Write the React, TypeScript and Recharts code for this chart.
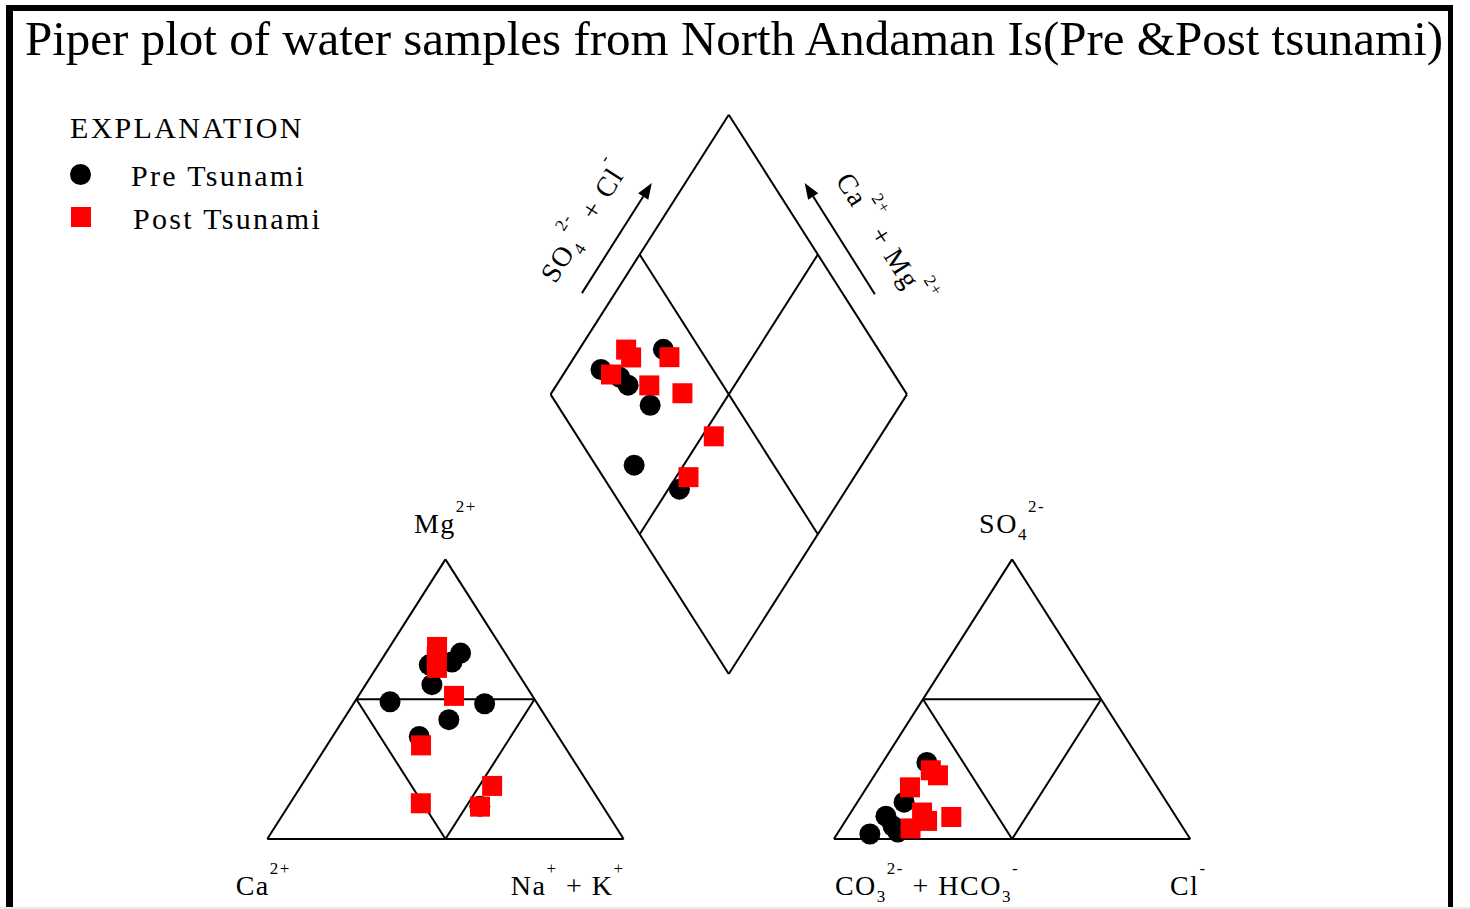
import * as React from 'react';
import { ScatterChart, Scatter, XAxis, YAxis, ReferenceLine, ReferenceDot, Legend } from 'recharts';

const SERIF = '"Liberation Serif", "Times New Roman", "DejaVu Serif", serif';

// ---- data (percent of meq) ----
// cation triangle: [Ca, Mg, Na+K]
const preCations = [
  [41.0, 49.1, 9.9],
  [14.8, 48.4, 36.8],
  [26.2, 55.2, 18.6],
  [27.7, 42.7, 29.6],
  [39.0, 36.7, 24.3],
  [34.5, 11.7, 53.8],
  [12.5, 66.5, 21.0],
  [16.5, 63.3, 20.2],
  [23.4, 62.3, 14.3],
];
const postCations = [
  [18.0, 68.7, 13.3],
  [19.9, 65.1, 15.0],
  [21.8, 61.2, 17.0],
  [22.0, 51.2, 26.8],
  [40.1, 33.5, 26.4],
  [50.5, 12.8, 36.7],
  [27.4, 19.0, 53.6],
  [34.5, 11.6, 53.9],
];
// anion triangle: [CO3+HCO3, SO4, Cl]
const preAnions = [
  [89.0, 1.8, 9.2],
  [60.2, 27.4, 12.4],
  [73.7, 13.2, 13.1],
  [81.3, 8.2, 10.5],
  [81.1, 4.6, 14.3],
  [80.8, 2.5, 16.7],
];
const postAnions = [
  [60.5, 24.6, 14.9],
  [59.4, 22.8, 17.8],
  [69.4, 18.5, 12.1],
  [70.5, 9.5, 20.0],
  [70.6, 6.5, 22.9],
  [63.1, 7.9, 29.0],
  [76.6, 3.8, 19.6],
];
// diamond: [Na+K, SO4+Cl]
const preDiamond = [
  [9.7, 18.6],
  [16.4, 22.5],
  [20.1, 23.4],
  [23.6, 39.7],
  [29.9, 26.0],
  [36.1, 10.8],
  [53.1, 19.2],
];
const postDiamond = [
  [13.2, 29.2],
  [16.0, 29.2],
  [26.7, 40.0],
  [13.4, 20.5],
  [26.1, 29.3],
  [36.8, 37.2],
  [53.3, 38.3],
  [53.5, 23.9],
];

// ---- piper geometry (x in triangle sides, y in triangle heights) ----
const GAP = 0.59;
const AO = 1 + GAP; // anion triangle left corner
const DL = { x: 0.5 + GAP / 2, y: 1 + GAP }; // left corner of diamond

const cationXY = ([, mg, nak]: number[]) => ({ x: (nak + mg / 2) / 100, y: mg / 100 });
const anionXY = ([, so4, cl]: number[]) => ({ x: AO + (cl + so4 / 2) / 100, y: so4 / 100 });
const diamondXY = ([nak, sc]: number[]) => ({ x: DL.x + (nak + sc) / 200, y: DL.y + (sc - nak) / 100 });

const triSegs = (o: number) => [
  [o, 0, o + 1, 0], [o + 1, 0, o + 0.5, 1], [o + 0.5, 1, o, 0],
  [o + 0.25, 0.5, o + 0.75, 0.5], [o + 0.25, 0.5, o + 0.5, 0], [o + 0.75, 0.5, o + 0.5, 0],
];
const B = { x: DL.x + 0.5, y: GAP };
const T = { x: DL.x + 0.5, y: GAP + 2 };
const R = { x: DL.x + 1, y: DL.y };
const diamondSegs = [
  [DL.x, DL.y, B.x, B.y], [B.x, B.y, R.x, R.y], [R.x, R.y, T.x, T.y], [T.x, T.y, DL.x, DL.y],
  [(DL.x + T.x) / 2, (DL.y + T.y) / 2, (B.x + R.x) / 2, (B.y + R.y) / 2],
  [(R.x + T.x) / 2, (R.y + T.y) / 2, (B.x + DL.x) / 2, (B.y + DL.y) / 2],
];
const segments = [...triSegs(0), ...triSegs(AO), ...diamondSegs];

const arrows = [
  [0.883, 1.952, 1.079, 2.346],
  [1.705, 1.948, 1.508, 2.346],
];

type Part = [string, 'n' | 'sub' | 'sup'];
const SHIFT = { n: 0, sub: 7, sup: -21 };

const labels: { x: number; y: number; dx: number; dy: number; anchor: string; rot: number; parts: Part[] }[] = [
  { x: 0.5, y: 1, dx: 0, dy: -26, anchor: 'middle', rot: 0, parts: [['Mg', 'n'], ['2+', 'sup']] },
  { x: AO + 0.5, y: 1, dx: 0, dy: -26, anchor: 'middle', rot: 0, parts: [['SO', 'n'], ['4', 'sub'], ['2-', 'sup']] },
  { x: 0, y: 0, dx: -4, dy: 56, anchor: 'middle', rot: 0, parts: [['Ca', 'n'], ['2+', 'sup']] },
  { x: 1, y: 0, dx: 1, dy: 56, anchor: 'end', rot: 0, parts: [['Na', 'n'], ['+', 'sup'], [' + K', 'n'], ['+', 'sup']] },
  { x: AO, y: 0, dx: 1, dy: 56, anchor: 'start', rot: 0, parts: [['CO', 'n'], ['3', 'sub'], ['2-', 'sup'], [' + HCO', 'n'], ['3', 'sub'], ['-', 'sup']] },
  { x: AO + 1, y: 0, dx: -2, dy: 56, anchor: 'middle', rot: 0, parts: [['Cl', 'n'], ['-', 'sup']] },
  { x: 0.911, y: 2.189, dx: 0, dy: 0, anchor: 'middle', rot: -57.5, parts: [['SO', 'n'], ['4', 'sub'], ['2-', 'sup'], [' + Cl', 'n'], ['-', 'sup']] },
  { x: 1.708, y: 2.125, dx: 0, dy: 0, anchor: 'middle', rot: 57.5, parts: [['Ca', 'n'], ['2+', 'sup'], [' + Mg', 'n'], ['2+', 'sup']] },
];

const RichText = ({ cx, cy, l }: any) => {
  const x = cx + l.dx;
  const y = cy + l.dy;
  let prev = 0;
  return (
    <text
      x={x}
      y={y}
      textAnchor={l.anchor}
      fontFamily={SERIF}
      fontSize={28}
      letterSpacing={1.5}
      fill="#000"
      style={{ whiteSpace: 'pre' }}
      transform={l.rot ? `rotate(${l.rot} ${x} ${y})` : undefined}
    >
      {l.parts.map(([t, k]: Part, i: number) => {
        const dy = SHIFT[k] - prev;
        prev = SHIFT[k];
        return (
          <tspan key={i} dy={dy} fontSize={k === 'n' ? 28 : 17}>
            {t}
          </tspan>
        );
      })}
    </text>
  );
};

const Arrow = (p: any) => {
  const { x1, y1, x2, y2 } = p;
  const len = Math.hypot(x2 - x1, y2 - y1);
  const ux = (x2 - x1) / len;
  const uy = (y2 - y1) / len;
  const bx = x2 - ux * 16;
  const by = y2 - uy * 16;
  return (
    <g>
      <line x1={x1} y1={y1} x2={bx} y2={by} stroke="#000" strokeWidth={2} />
      <polygon points={`${x2},${y2} ${bx - uy * 6},${by + ux * 6} ${bx + uy * 6},${by - ux * 6}`} fill="#000" />
    </g>
  );
};

const Dot = (p: any) => <circle cx={p.cx} cy={p.cy} r={10.5} fill="#000" />;
const Square = (p: any) => <rect x={p.cx - 10} y={p.cy - 10} width={20} height={20} fill="#ff0000" />;

const SERIES_NAMES = ['Pre Tsunami', 'Post Tsunami'];

const ExplanationLegend = (props: any) => {
  const names = (props.payload || []).map((e: any) => e.value);
  const shown = SERIES_NAMES.filter((n) => names.includes(n));
  const text = { position: 'absolute' as const, fontFamily: SERIF, fontSize: 30, lineHeight: '30px', letterSpacing: 2.3, whiteSpace: 'nowrap' as const, color: '#000' };
  return (
    <div style={{ position: 'relative', width: 330, height: 130 }}>
      <div style={{ ...text, left: 0, top: 0 }}>EXPLANATION</div>
      {shown.map((name, i) => (
        <React.Fragment key={name}>
          {name === 'Pre Tsunami' ? (
            <div style={{ position: 'absolute', left: 0, top: 51 + i * 43, width: 21, height: 21, borderRadius: '50%', background: '#000' }} />
          ) : (
            <div style={{ position: 'absolute', left: 1, top: 51 + i * 43, width: 20, height: 20, background: '#ff0000' }} />
          )}
          <div style={{ ...text, left: 61 + i * 2, top: 48 + i * 43 }}>{name}</div>
        </React.Fragment>
      ))}
    </div>
  );
};

export default function App() {
  return (
    <div style={{ position: 'absolute', left: 0, top: 0, width: 1470, height: 909, overflow: 'hidden', background: '#fff' }}>
      <div style={{ position: 'absolute', left: 25, top: 14, fontFamily: SERIF, fontSize: 49, lineHeight: '49px', whiteSpace: 'nowrap', color: '#000' }}>
        Piper plot of water samples from North Andaman Is(Pre &amp;Post tsunami)
      </div>
      <div style={{ position: 'absolute', left: 0, top: 0 }}>
        <ScatterChart width={1470} height={909} margin={{ top: 0, right: 0, bottom: 0, left: 0 }}>
          <XAxis type="number" dataKey="x" domain={[-0.75, 3.375]} hide allowDataOverflow />
          <YAxis type="number" dataKey="y" domain={[-0.25, 3.0]} hide allowDataOverflow />
          {segments.map((s, i) => (
            <ReferenceLine key={'s' + i} segment={[{ x: s[0], y: s[1] }, { x: s[2], y: s[3] }]} stroke="#000" strokeWidth={2} ifOverflow="visible" />
          ))}
          {arrows.map((s, i) => (
            <ReferenceLine key={'a' + i} segment={[{ x: s[0], y: s[1] }, { x: s[2], y: s[3] }]} shape={Arrow} ifOverflow="visible" />
          ))}
          {labels.map((l, i) => (
            <ReferenceDot key={'l' + i} x={l.x} y={l.y} ifOverflow="visible" shape={(p: any) => <RichText cx={p.cx} cy={p.cy} l={l} />} />
          ))}
          <Scatter name="Pre Tsunami" data={preCations.map(cationXY)} shape={Dot} isAnimationActive={false} />
          <Scatter name="pre-anion" data={preAnions.map(anionXY)} shape={Dot} legendType="none" isAnimationActive={false} />
          <Scatter name="pre-diamond" data={preDiamond.map(diamondXY)} shape={Dot} legendType="none" isAnimationActive={false} />
          <Scatter name="Post Tsunami" data={postCations.map(cationXY)} shape={Square} isAnimationActive={false} />
          <Scatter name="post-anion" data={postAnions.map(anionXY)} shape={Square} legendType="none" isAnimationActive={false} />
          <Scatter name="post-diamond" data={postDiamond.map(diamondXY)} shape={Square} legendType="none" isAnimationActive={false} />
          <Legend
            layout="vertical"
            align="center"
            verticalAlign="middle"
            content={ExplanationLegend}
            wrapperStyle={{ position: 'absolute', left: 70, top: 113, width: 330, height: 130, margin: 0 }}
          />
        </ScatterChart>
      </div>
      <div
        style={{
          position: 'absolute',
          left: 6,
          top: 5,
          width: 1447,
          height: 1000,
          boxSizing: 'border-box',
          borderLeft: '7px solid #000',
          borderTop: '6px solid #000',
          borderRight: '5px solid #000',
        }}
      />
      <div style={{ position: 'absolute', left: 0, top: 907, width: 1470, height: 2, background: '#ececec' }} />
    </div>
  );
}
